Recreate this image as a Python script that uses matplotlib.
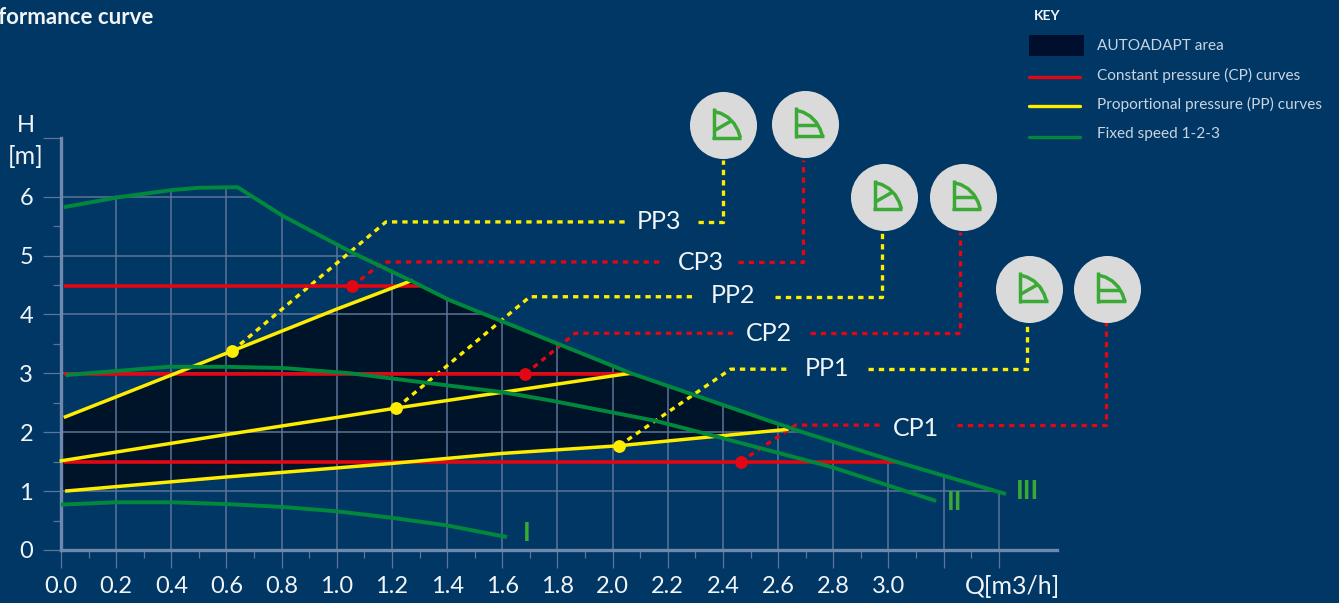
#!/usr/bin/env python3

# Pump performance curve with AUTOADAPT area and control mode callouts
# Usage:
#   $ python3 plot.py

import matplotlib
matplotlib.use('Agg')
import matplotlib.pyplot as plt
from matplotlib.patches import Polygon, Rectangle
from matplotlib.transforms import Affine2D
import numpy as np

# Fixed speed curves, Q in m3/h and H in m
speed3_q = [0.01, 0.21, 0.40, 0.50, 0.64, 0.805, 1.06, 1.265, 1.41, 2.067, 2.663, 3.006, 3.426]
speed3_h = [5.82, 5.99, 6.11, 6.15, 6.16, 5.67, 5.04, 4.58, 4.24, 3.00, 2.04, 1.53, 0.95]
speed2_q = [0.017, 0.388, 0.593, 0.805, 1.05, 1.305, 1.60, 1.773, 2.154, 2.37, 2.79, 3.173]
speed2_h = [2.97, 3.11, 3.11, 3.09, 3.00, 2.85, 2.68, 2.54, 2.195, 1.935, 1.414, 0.832]
speed1_q = [0.0, 0.198, 0.40, 0.60, 0.805, 1.0, 1.197, 1.397, 1.617]
speed1_h = [0.77, 0.81, 0.81, 0.78, 0.73, 0.657, 0.548, 0.42, 0.22]

# Constant pressure curves
cp_h = [1.49, 2.99, 4.49]
cp_start_q = [0.01, 0.01, 0.01]
cp_end_q = [3.026, 2.07, 1.30]

# Proportional pressure curves
pp1_q = [0.015, 0.60, 1.20, 1.60, 2.023, 2.638]
pp1_h = [1.00, 1.24, 1.47, 1.64, 1.77, 2.05]
pp2_q = [-0.005, 0.60, 1.00, 1.216, 2.063]
pp2_h = [1.51, 1.96, 2.25, 2.41, 3.00]
pp3_q = [0.01, 0.20, 0.621, 1.00, 1.275]
pp3_h = [2.25, 2.60, 3.38, 4.09, 4.58]

# Duty points
yellow_dot_q = [2.023, 1.216, 0.621]
yellow_dot_h = [1.77, 2.41, 3.38]
red_dot_q = [2.464, 1.684, 1.056]
red_dot_h = [1.50, 2.99, 4.48]

# Callout leaders, first part runs up to the label and second part to the icon
callout_names = ['PP3', 'CP3', 'PP2', 'CP2', 'PP1', 'CP1']
callout_is_pp = [True, False, True, False, True, False]
leader_a_q = [[0.621, 1.178, 2.045], [1.056, 1.168, 2.18], [1.216, 1.70, 2.29],
              [1.684, 1.864, 2.437], [2.023, 2.428, 2.63], [2.464, 2.663, 2.97]]
leader_a_h = [[3.38, 5.57, 5.57], [4.48, 4.89, 4.89], [2.41, 4.30, 4.30],
              [2.99, 3.68, 3.68], [1.77, 3.07, 3.07], [1.50, 2.12, 2.12]]
leader_b_q = [[2.31, 2.40, 2.40], [2.455, 2.69, 2.69], [2.59, 2.978, 2.978],
              [2.716, 3.26, 3.26], [2.926, 3.503, 3.503], [3.25, 3.79, 3.79]]
leader_b_h = [[5.57, 5.57, 6.62], [4.89, 4.89, 6.62], [4.30, 4.30, 5.40],
              [3.68, 3.68, 5.40], [3.07, 3.07, 3.90], [2.12, 2.12, 3.90]]
label_q = [2.167, 2.32, 2.437, 2.568, 2.777, 3.10]
label_h = [5.57, 4.88, 4.32, 3.68, 3.08, 2.07]
icon_q = [2.40, 2.698, 2.984, 3.27, 3.51, 3.794]
icon_h = [7.21, 7.23, 6.0, 6.0, 4.43, 4.43]

# Axis ticks
major_q = [0.2 * i for i in range(18)]
minor_q = [0.1 + 0.2 * i for i in range(18)]
q_labels = ['%.1f' % (0.2 * i) for i in range(16)] + ['', '']
major_h = [0, 1, 2, 3, 4, 5, 6, 7]
minor_h = [0.5, 1.5, 2.5, 3.5, 4.5, 5.5]
h_labels = ['0', '1', '2', '3', '4', '5', '6', '']

key_labels = ['AUTOADAPT area', 'Constant pressure (CP) curves',
              'Proportional pressure (PP) curves', 'Fixed speed 1-2-3']

navy = '#003764'
dark = '#001429'
grid_color = '#5c7499'
axis_color = '#7088ad'
red = '#e30613'
yellow = '#ffed00'
green = '#00893d'
light_green = '#3aaa35'
white = '#f2f5f8'
key_text = '#c9d4e2'
key_dark = '#000f2e'
disc = '#dadada'

W, H = 1339, 603
# Pixels of the origin and per unit
X0, Y0 = 61.0, 550.0
SX, SY = 275.8, 58.9
FONT = 'Lato'


def draw_icon(ax, px, cx, cy, is_pp):
  # Small pump curve symbol, offsets in pixels from the disc centre
  style = dict(color=light_green, lw=2.5, transform=px, zorder=8, solid_capstyle='butt')
  ax.plot([cx - 9.3, cx - 9.3], [cy - 17, cy + 13.5], **style)
  ax.plot([cx - 10.5, cx + 18.5], [cy + 12.3, cy + 12.3], **style)
  arc_x = [cx - 9.3, cx - 2, cx + 5, cx + 11, cx + 15, cx + 17.5]
  arc_y = [cy - 14, cy - 12, cy - 8, cy - 2, cy + 5, cy + 12.3]
  ax.plot(arc_x, arc_y, **style)
  if is_pp:
    ax.plot([cx - 9, cx + 8.5], [cy + 5.5, cy - 4.5], **style)
  else:
    ax.plot([cx - 9.3, cx + 12], [cy + 0.7, cy + 0.7], **style)


def main():

  fig = plt.figure(figsize=(W / 100, H / 100), dpi=100, facecolor=navy)
  ax = fig.add_axes([0, 0, 1, 1], facecolor=navy)
  ax.set_xlim(-X0 / SX, (W - X0) / SX)
  ax.set_ylim((Y0 - H) / SY, Y0 / SY)

  # Transform for things placed in image pixels (y going down)
  px = Affine2D().scale(1, -1).translate(0, H)

  # AUTOADAPT area: below PP3, below speed III, above PP1
  top_q = [q for q in speed3_q if 1.275 < q < 2.638]
  top_h = [speed3_h[speed3_q.index(q)] for q in top_q]
  area = list(zip([0.0] + pp3_q[1:] + top_q + [2.66], [2.25] + pp3_h[1:] + top_h + [2.05]))
  area += list(zip(pp1_q[::-1][1:] + [0.0], pp1_h[::-1][1:] + [1.0]))
  ax.add_patch(Polygon(area, closed=True, fc=dark, ec='none', zorder=1))

  # Axes
  for name in ['top', 'right']:
    ax.spines[name].set_visible(False)
  ax.spines['left'].set_position(('data', 0))
  ax.spines['left'].set_bounds(0, 7)
  ax.spines['bottom'].set_position(('data', 0))
  ax.spines['bottom'].set_bounds(0, 3.61)
  for name in ['left', 'bottom']:
    ax.spines[name].set_color(axis_color)
    ax.spines[name].set_linewidth(2.4)
    ax.spines[name].set_zorder(3)

  ax.set_xticks(major_q)
  ax.set_xticklabels(q_labels, fontfamily=FONT, fontsize=17, color=white)
  ax.set_xticks(minor_q[:-1], minor=True)
  ax.set_yticks(major_h)
  ax.set_yticklabels(h_labels, fontfamily=FONT, fontsize=17, color=white)
  ax.set_yticks(minor_h, minor=True)
  ax.tick_params(which='major', axis='x', length=13, width=0.9, color=grid_color, pad=6)
  ax.tick_params(which='major', axis='y', length=13, width=0.9, color=grid_color, pad=7)
  ax.tick_params(which='minor', axis='both', length=6, width=0.9, color=grid_color)

  # Grid stops at the top speed curve
  ax.grid(True, which='major', color=grid_color, lw=1.1, zorder=2)
  ax.set_axisbelow(False)
  limit = list(zip([0.0, 0.0, 0.21] + speed3_q[2:] + [3.426],
                   [0.0, 6.02, 6.02] + speed3_h[2:] + [0.0]))
  clip = Polygon(limit, closed=True, transform=ax.transData)
  for line in ax.get_xgridlines() + ax.get_ygridlines():
    line.set_clip_path(clip)
    line.set_zorder(2)

  # Curves
  curve = dict(solid_capstyle='butt', zorder=5)
  for h, start, end in zip(cp_h, cp_start_q, cp_end_q):
    ax.plot([start, end], [h, h], color=red, lw=2.6, **curve)
  ax.plot(pp1_q, pp1_h, color=yellow, lw=2.5, **curve)
  ax.plot(pp2_q, pp2_h, color=yellow, lw=2.5, **curve)
  ax.plot(pp3_q, pp3_h, color=yellow, lw=2.5, **curve)
  ax.plot(speed1_q, speed1_h, color=green, lw=2.8, **curve)
  ax.plot(speed2_q, speed2_h, color=green, lw=2.8, **curve)
  ax.plot(speed3_q, speed3_h, color=green, lw=2.8, **curve)

  # Leaders, labels and icons
  dots = dict(lw=2.4, linestyle=(0, (1.6, 1.5)), dash_capstyle='butt', zorder=4)
  for i in range(len(callout_names)):
    color = yellow if callout_is_pp[i] else red
    ax.plot(leader_a_q[i], leader_a_h[i], color=color, **dots)
    ax.plot(leader_b_q[i], leader_b_h[i], color=color, **dots)
    ax.text(label_q[i], label_h[i], callout_names[i], color=white, fontfamily=FONT,
            fontsize=18, ha='center', va='center', zorder=7)
    ax.scatter([icon_q[i]], [icon_h[i]], s=2330, color=disc, lw=0, zorder=6)
    cx = X0 + icon_q[i] * SX
    cy = Y0 - icon_h[i] * SY
    draw_icon(ax, px, cx, cy, callout_is_pp[i])

  ax.scatter(yellow_dot_q, yellow_dot_h, s=85, color=yellow, lw=0, zorder=6)
  ax.scatter(red_dot_q, red_dot_h, s=85, color=red, lw=0, zorder=6)

  # Roman numerals of the speeds
  roman = dict(color=light_green, fontfamily=FONT, fontsize=19, fontweight='bold',
               ha='center', va='center', zorder=7)
  ax.text(527, 533, 'I', transform=px, **roman)
  ax.text(955, 502, 'II', transform=px, **roman)
  ax.text(1028, 491, 'III', transform=px, **roman)

  # Axis names and title
  ax.text(26, 126, 'H', transform=px, color=white, fontfamily=FONT, fontsize=17, ha='center', va='center')
  ax.text(26, 157, '[m]', transform=px, color=white, fontfamily=FONT, fontsize=18, ha='center', va='center')
  ax.text(1012, 586, 'Q[m3/h]', transform=px, color=white, fontfamily=FONT, fontsize=18, ha='center', va='center')
  # The reference crops the start of this title at the left edge
  ax.text(153, 18, 'Performance curve', transform=px, color=white, fontfamily=FONT, fontsize=16,
          fontweight='bold', ha='right', va='center')

  # Key
  ax.text(1034, 16, 'KEY', transform=px, color=white, fontfamily=FONT, fontsize=10,
          fontweight='bold', va='center')
  ax.add_patch(Rectangle((1029, 35), 55, 21, transform=px, fc=key_dark, ec='none'))
  for y, color in zip([77, 106, 137], [red, yellow, green]):
    ax.plot([1029, 1080], [y, y], color=color, lw=2.4, transform=px, solid_capstyle='round')
  for y, lbl in zip([46, 75, 104, 134], key_labels):
    ax.text(1097, y, lbl, transform=px, color=key_text, fontfamily=FONT, fontsize=11.1, va='center')

  fig.savefig('out.png', dpi=100, facecolor=navy)


if __name__ == '__main__':
  main()
